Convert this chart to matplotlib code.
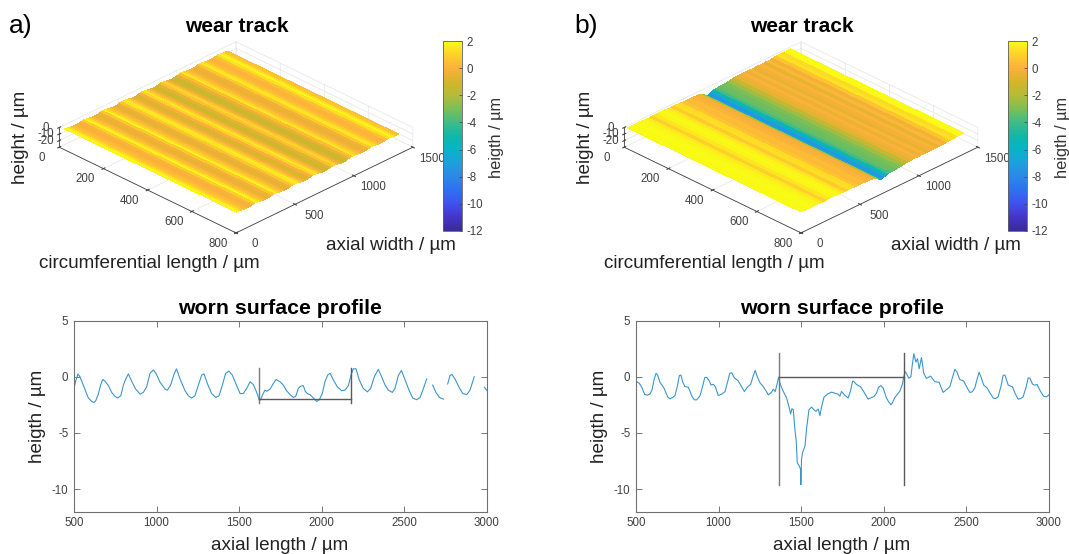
import numpy as np
import matplotlib
matplotlib.use("Agg")
import matplotlib.pyplot as plt
from matplotlib.colors import LinearSegmentedColormap, Normalize
from matplotlib.cm import ScalarMappable

plt.rcParams['font.family'] = ['Liberation Sans', 'DejaVu Sans']
plt.rcParams['axes.unicode_minus'] = False

W, H = 1069, 554

# colours, -12 up to 2
bar_values = [-12, -11, -10, -9, -8, -7, -6, -5, -4, -3, -2, -1, 0, 1, 2]
bar_colors = ['#3a2a9a', '#4535c8', '#4050f0', '#2f70f0', '#2c88e6', '#1f9fdc', '#05b5c5', '#0fb8a8',
              '#41bb87', '#7bbf55', '#b4bb3a', '#d4b52a', '#fbb03b', '#fdd02a', '#f9fb15']

# profile a), gaps are NaN
prof_x_a = [500, 510, 524, 536, 552, 571, 587, 607, 621, 633, 647, 661, 674, 688, 708, 728, 748, 764, 783, 799, 815,
            829, 849, 873, 900, 920, 940, 960, 980, 996, 1021, 1051, 1065, 1085, 1105, 1120, 1142, 1172, 1192, 1212,
            1232, 1253, 1273, 1287, 1307, 1333, 1358, 1378, 1398, 1418, 1438, 1458, 1479, 1505, 1525, 1545, 1566,
            1586, 1606, 1622, 1630, 1642, 1656, 1666, 1687, 1707, 1723, 1747, 1767, 1787, 1808, 1828, 1842, 1858,
            1872, 1888, 1900, 1912, 1929, 1949, 1969, 1985, 2003, 2019, 2036, 2050, 2070, 2094, 2120, 2140, 2161,
            2177, 2191, 2207, 2227, 2251, 2276, 2296, 2318, 2342, 2362, 2383, 2403, 2427, 2443, 2463, 2482, 2504,
            2528, 2550, 2574, 2595, 2615, 2635, 2650, 2671, 2691, 2712, 2736, 2750, 2762, 2776, 2788, 2806, 2831,
            2853, 2877, 2897, 2923, 2950, 2984, 2998]
prof_y_a = [-1.0, -0.4, 0.24, 0.0, -0.6, -1.3, -1.9, -2.2, -2.3, -2.1, -1.55, -0.75, -0.25, -0.4, -0.8, -1.4, -1.75,
            -1.9, -1.7, -0.75, -0.15, 0.25, -0.4, -1.1, -1.55, -1.4, -0.9, 0.3, 0.6, 0.3, -0.5, -1.1, -1.2, -0.75,
            0.2, 0.7, -0.2, -1.25, -1.7, -1.9, -1.7, -0.75, 0.15, 0.25, -0.6, -1.5, -1.85, -1.7, -0.75, 0.3, 0.5,
            0.15, -0.6, -1.5, -1.5, -1.05, -0.45, -0.7, -1.4, -2.1, -2.05, -1.6, -1.2, -1.3, -1.1, -0.6, -0.25, -0.45,
            -0.75, -1.25, -1.6, -1.85, -1.75, -1.05, -0.85, -0.8, -1.3, -1.5, -1.6, -1.9, -2.2, -2.05, -1.5, -0.45,
            0.15, 0.3, -0.3, -0.9, -1.25, -1.2, -0.8, 0.15, 0.7, 0.7, -0.3, -1.05, -1.35, -1.05, 0.0, 0.65, 0.0,
            -0.75, -1.2, -1.4, -1.05, 0.1, 0.55, -0.3, -1.2, -1.9, -2.05, -1.85, -1.05, -0.2, np.nan, -0.75, -1.4,
            -1.85, -2.0, np.nan, -0.65, 0.1, 0.2, -0.2, -0.95, -1.5, -1.6, -1.2, 0.0, np.nan, -0.95, -1.2]

# profile b)
prof_x_b = [500, 504, 520, 536, 552, 569, 585, 597, 609, 621, 631, 645, 659, 672, 682, 694, 706, 722, 736, 750, 762,
            772, 782, 796, 817, 827, 839, 853, 867, 887, 903, 916, 928, 944, 954, 968, 980, 998, 1018, 1039, 1055,
            1067, 1079, 1095, 1119, 1139, 1156, 1174, 1194, 1210, 1222, 1234, 1250, 1270, 1287, 1301, 1319, 1331,
            1343, 1355, 1363, 1375, 1392, 1412, 1428, 1436, 1444, 1452, 1462, 1470, 1476, 1488, 1496, 1498, 1502,
            1508, 1523, 1533, 1547, 1563, 1577, 1589, 1603, 1613, 1624, 1638, 1664, 1684, 1724, 1734, 1744, 1764,
            1784, 1798, 1811, 1820, 1835, 1859, 1875, 1905, 1942, 1956, 1968, 1982, 1996, 2016, 2030, 2043, 2053,
            2067, 2097, 2112, 2121, 2129, 2140, 2151, 2164, 2172, 2182, 2194, 2204, 2214, 2228, 2242, 2258, 2283,
            2309, 2335, 2359, 2400, 2415, 2430, 2443, 2460, 2484, 2505, 2521, 2535, 2551, 2565, 2577, 2590, 2605,
            2625, 2645, 2662, 2678, 2692, 2710, 2722, 2733, 2753, 2779, 2795, 2813, 2828, 2843, 2860, 2874, 2885,
            2900, 2910, 2928, 2948, 2968, 2985, 3000]
prof_y_b = [-0.45, -0.44, -0.59, -0.97, -1.56, -1.65, -1.53, -1.18, -0.29, 0.29, 0.15, -0.5, -0.79, -1.09, -1.47,
            -1.85, -1.97, -1.85, -1.68, -0.88, 0.09, 0.15, -0.44, -0.88, -0.94, -1.32, -1.76, -2.06, -2.06, -1.71,
            -0.88, -0.09, -0.06, -0.38, -0.74, -0.68, -0.88, -1.68, -1.56, -1.32, -0.44, 0.29, 0.35, -0.09, -0.38,
            -0.88, -1.32, -0.94, -0.68, 0.09, 0.56, 0.0, -0.53, -0.88, -1.26, -1.62, -1.41, -1.12, -1.32, -0.59,
            -0.06, -0.74, -1.32, -1.91, -2.79, -3.32, -2.85, -2.94, -4.71, -5.74, -7.65, -7.94, -8.24, -9.6, -7.35,
            -6.76, -6.18, -4.56, -2.94, -2.71, -2.94, -3.09, -2.88, -3.47, -2.65, -1.82, -1.5, -1.38, -1.56, -1.74,
            -1.32, -1.65, -1.9, -1.3, -0.4, -0.45, -0.7, -0.9, -1.25, -2.0, -1.75, -1.45, -0.95, -0.8, -1.0, -1.9,
            -2.25, -2.5, -2.3, -1.85, -1.3, -0.7, 0.0, 0.45, 0.2, -0.15, 0.0, 1.0, 2.05, 1.3, 1.6, 0.7, 1.7, 0.3,
            -0.15, 0.05, -0.45, -0.5, -1.4, -0.9, -0.1, 0.65, 0.4, -0.25, -0.4, -1.0, -1.4, -1.35, -1.0, -0.2, 0.4,
            -0.1, -0.75, -1.0, -1.5, -1.9, -1.95, -1.8, -0.8, 0.1, 0.15, -0.75, -0.9, -1.5, -2.0, -1.95, -1.8, -1.0,
            -0.1, -0.15, -0.65, -0.75, -0.7, -1.3, -1.75, -1.8, -1.6]

# wear width brackets
bracket_a = [1620, 2177, 0.75, -2.3, -2.0]
bracket_b = [1363, 2122, 2.15, -9.65, 0.0]

# surface height across the axial width
surf_axial_a = [0, 20, 40, 60, 80, 100, 120, 140, 160, 180, 200, 220, 240, 260, 280, 300, 320, 340, 360, 380, 400,
                420, 440, 460, 480, 500, 520, 540, 560, 580, 600, 620, 640, 660, 680, 700, 720, 740, 760, 780, 800,
                820, 840, 860, 880, 900, 920, 940, 960, 980, 1000, 1020, 1040, 1060, 1080, 1100, 1120, 1140, 1160,
                1180, 1200, 1220, 1240, 1260, 1280, 1300, 1320, 1340, 1360, 1380]
surf_height_a = [1.8, 1.3, 0.7, 0.4, 0.1, -0.1, 0.1, 0.9, 1.8, 1.3, 0.6, 0.2, -0.3, -0.5, -0.2, 0.7, 1.8, 1.2, 0.6,
                 0.2, -0.4, -0.6, -0.3, 0.6, 1.4, 1.6, 1.0, 0.3, -0.3, -0.8, -0.7, -0.1, 1.0, 1.5, 0.9, 0.2, -0.5,
                 -1.1, -1.2, -0.6, 0.5, 1.1, 0.6, -0.2, -0.9, -1.3, -1.2, -0.5, 0.4, 1.5, 1.1, 0.5, 0.1, -0.3, -0.5,
                 -0.2, 0.7, 1.5, 1.3, 0.7, 0.3, 0.1, 0.1, 0.5, 1.3, 1.8, 1.4, 0.7, 0.5, 0.4]
surf_axial_b = [0, 30, 60, 90, 120, 150, 180, 210, 240, 270, 300, 330, 360, 390, 420, 450, 480, 510, 540, 570, 600,
                620, 640, 655, 670, 685, 700, 715, 730, 750, 780, 810, 840, 870, 900, 930, 960, 990, 1020, 1050, 1080,
                1110, 1140, 1170, 1200, 1230, 1260, 1290, 1320, 1350, 1380]
surf_height_b = [1.9, 1.9, 2.0, 1.9, 1.8, 1.6, 1.0, 1.5, 1.8, 1.9, 1.8, 1.5, 0.8, 1.3, 1.2, 0.6, 0.3, 0.4, 0.1, -0.1,
                 -0.3, -1.5, -3.0, -5.0, -7.0, -7.5, -6.5, -5.2, -4.0, -3.4, -3.2, -3.0, -2.4, -1.6, -0.6, -0.3, 0.0,
                 -0.4, 0.1, -0.5, -0.2, 0.1, -0.5, 0.2, -0.2, 0.6, 1.4, 1.2, 1.9, 2.0, 2.0]
surf_circ_a = [25, 800]
surf_circ_b = [15, 800]

cmap = LinearSegmentedColormap.from_list('bar', [((v + 12) / 14, c) for v, c in zip(bar_values, bar_colors)])
norm = Normalize(-12, 2)

GREY = '#404040'
LABEL = 13.55


def rect(left, top, width, height):
    return [left / W, 1 - (top + height) / H, width / W, height / H]


def put(x, y, s, **kw):
    kw.setdefault('ha', 'center')
    kw.setdefault('va', 'center')
    fig.text(x / W, 1 - y / H, s, **kw)


fig = plt.figure(figsize=(W / 100, H / 100), dpi=100)


def surface_panel(dx, letter, circ, axial, height):
    side = 344
    ax = fig.add_axes(rect(59.4 + dx, -30, side, side), projection='3d', proj_type='ortho')
    ax.patch.set_alpha(0)
    ax.set_box_aspect((1, 1, 0.09))
    ax.view_init(elev=29, azim=-45)
    ax.set_xlim(0, 800)
    ax.set_ylim(0, 1500)
    ax.set_zlim(-30, 0)
    X, Y = np.meshgrid(circ, axial)
    Z = np.array([height, height]).T
    ax.plot_surface(X, Y, Z, facecolors=cmap(norm(Z)), shade=False, rstride=1, cstride=1,
                    linewidth=0, antialiased=False)
    ax.set_xticks([0, 200, 400, 600, 800])
    ax.set_yticks([0, 500, 1000, 1500])
    ax.set_zticks([-20, -10, 0])
    for axis in (ax.xaxis, ax.yaxis, ax.zaxis):
        axis.set_pane_color((1, 1, 1, 0))
        axis.pane.set_edgecolor('#e0e0e0')
        axis.line.set_color(GREY)
        axis.line.set_linewidth(0.6)
        axis._axinfo['grid'].update(color='#e4e4e4', linewidth=0.5)
        axis._axinfo['tick'].update(inward_factor=0.1, outward_factor=0.1)
    ax.tick_params(labelsize=8.3, colors='#404040', width=0.5)
    ax.tick_params(axis='x', pad=5)
    ax.tick_params(axis='y', pad=6)
    ax.tick_params(axis='z', pad=-3)
    ax.zaxis.set_ticks_position('lower')
    for t in ax.get_xticklabels() + ax.get_yticklabels() + ax.get_zticklabels():
        t.set_va('center')

    cax = fig.add_axes(rect(443 + dx, 41, 19, 190))
    cb = fig.colorbar(ScalarMappable(norm=norm, cmap=cmap), cax=cax, ticks=range(-12, 3, 2))
    cb.ax.tick_params(labelsize=8.3, colors='#404040', direction='in', length=2.5, width=0.5, pad=3)
    cb.outline.set_edgecolor('#606060')
    cb.outline.set_linewidth(0.6)

    put(497 + dx, 137, 'heigth / µm', rotation=90, fontsize=11.8, color='#333333')
    put(237 + dx, 26, 'wear track', fontsize=15, fontweight='bold')
    put(21 + dx, 26, letter, fontsize=19)
    put(21 + dx, 137, 'height / µm', rotation=90, fontsize=LABEL, color='#222222')
    put(391 + dx, 245, 'axial width / µm', fontsize=LABEL, color='#222222')
    put(149 + dx, 264, 'circumferential length / µm', fontsize=LABEL, color='#222222')


def profile_panel(left, x, y, bracket, title_x, ylabel_x, xlabel_x):
    ax = fig.add_axes(rect(left, 320.5, 413, 191))
    ax.plot(x, y, color='#3c96cc', lw=0.8)
    x0, x1, top, low, level = bracket
    ax.plot([x0, x0], [low, top], color='#7a7a7a', lw=1.0)
    ax.plot([x1, x1], [low, top], color='#5a5a5a', lw=1.0)
    ax.plot([x0, x1], [level, level], color='#5a5a5a', lw=1.0)
    ax.set_xlim(500, 3000)
    ax.set_ylim(-12, 5)
    ax.set_yticks([-10, -5, 0, 5])
    ax.tick_params(labelsize=8.3, colors='#404040', direction='in', top=True, right=True, length=4, width=0.5, pad=4)
    for s in ax.spines.values():
        s.set_color('#707070')
        s.set_linewidth(0.8)
    put(title_x, 308, 'worn surface profile', fontsize=15.3, fontweight='bold')
    put(ylabel_x, 416, 'heigth / µm', rotation=90, fontsize=LABEL, color='#222222')
    put(xlabel_x, 545, 'axial length / µm', fontsize=LABEL, color='#222222')


surface_panel(0, 'a)', surf_circ_a, surf_axial_a, surf_height_a)
surface_panel(565, 'b)', surf_circ_b, surf_axial_b, surf_height_b)
profile_panel(74, prof_x_a, prof_y_a, bracket_a, 280, 38, 280)
profile_panel(636, prof_x_b, prof_y_b, bracket_b, 842, 600, 842)

fig.savefig('out.png', dpi=100)
